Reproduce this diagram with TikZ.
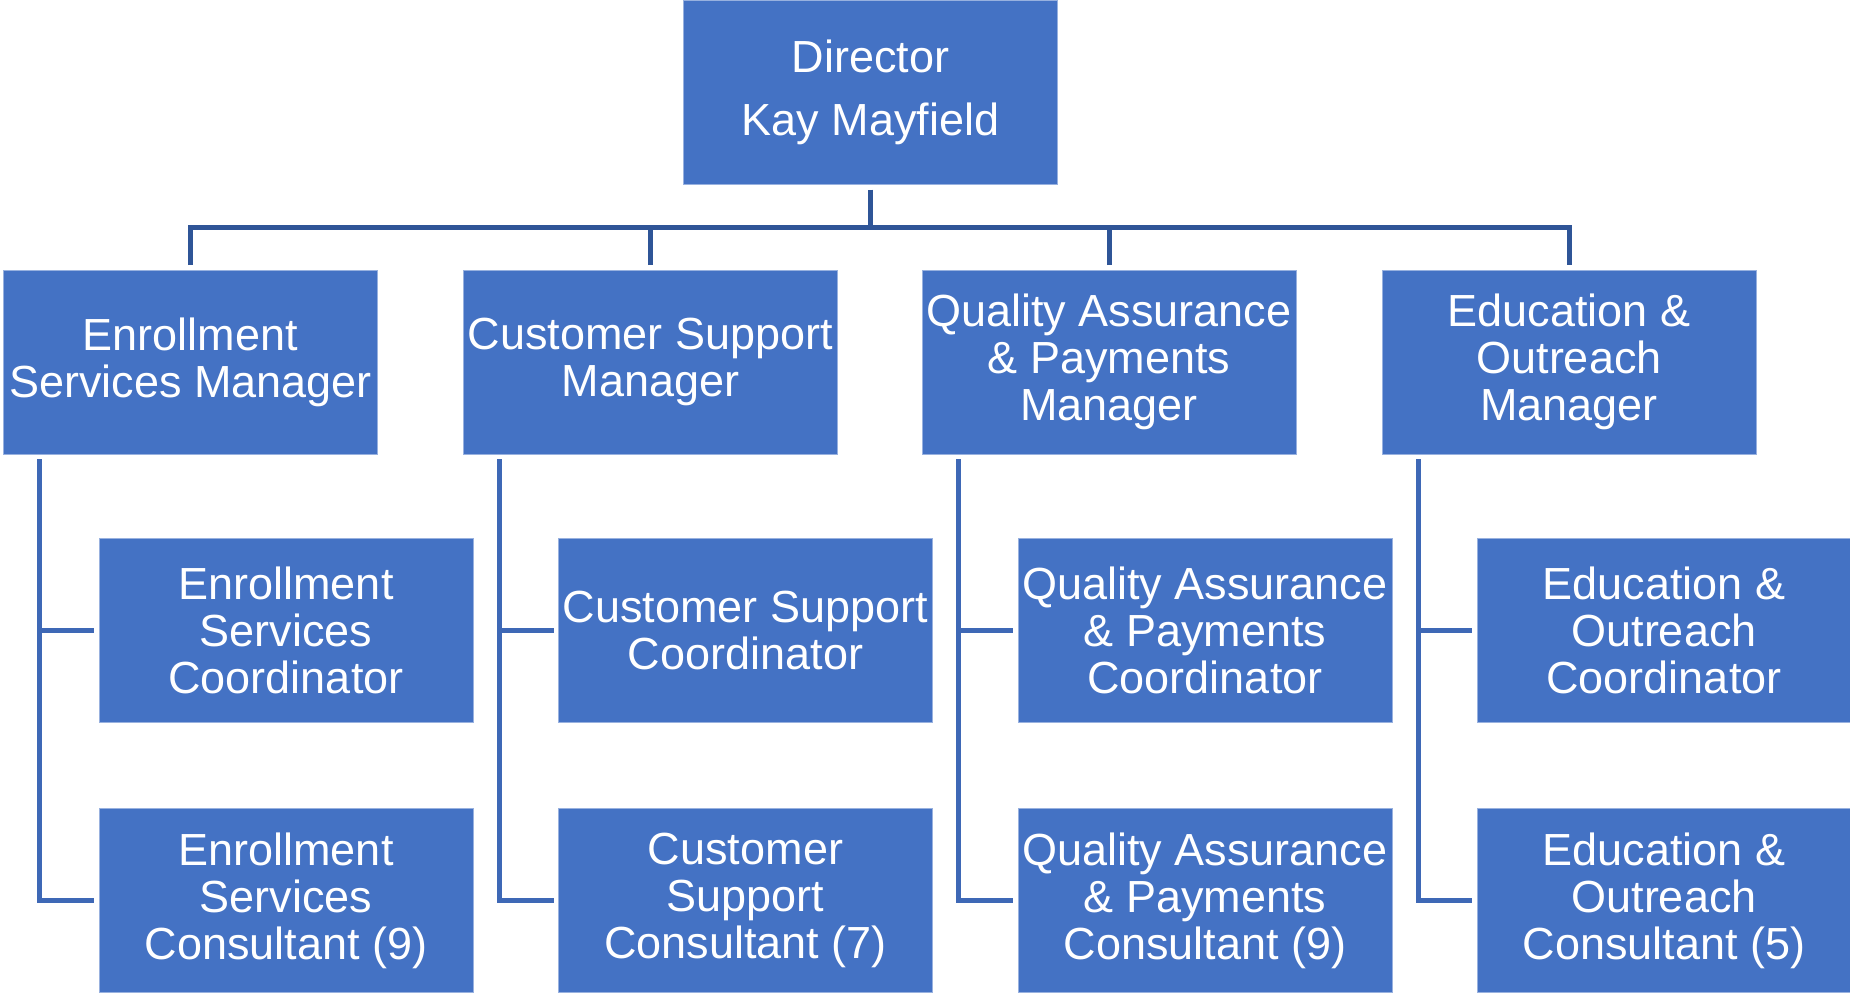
\documentclass[tikz,border=0pt]{standalone}
\usepackage{fontspec}
\setmainfont{Liberation Sans}
\usepackage{tikz}
\usetikzlibrary{positioning}
\definecolor{boxblue}{HTML}{4472C4}
\definecolor{topline}{HTML}{2F5597}
\definecolor{subline}{HTML}{3E68B6}
\tikzset{
  post/.style={rectangle, fill=boxblue, draw=boxblue!55!white, line width=1pt,
    minimum width=374pt, minimum height=184pt, inner sep=0pt, outer sep=5pt,
    text=white, align=center, font=\fontsize{45}{47}\selectfont},
}

\begin{document}
\begin{tikzpicture}[x=1pt, y=-1pt]
    \useasboundingbox (0,0) rectangle (1850,996);
    % director and managers
    \node[post, font=\fontsize{45}{63}\selectfont] (dir) at (870.5,92.5) {Director\\Kay Mayfield};
    \node[post] (m1) at (190.5,362) {Enrollment\\Services Manager};
    \node[post] (m2) at (650.5,362) {Customer Support\\Manager};
    \node[post] (m3) at (1109,362) {Quality Assurance\\\& Payments\\Manager};
    \node[post] (m4) at (1569,362) {Education \&\\Outreach\\Manager};
    % coordinators
    \node[post] (c1) at (286,630.5) {Enrollment\\Services\\Coordinator};
    \node[post] (c2) at (745.5,630.5) {Customer Support\\Coordinator};
    \node[post] (c3) at (1205,630.5) {Quality Assurance\\\& Payments\\Coordinator};
    \node[post] (c4) at (1664,630.5) {Education \&\\Outreach\\Coordinator};
    % consultants
    \node[post] (s1) at (286,900.5) {Enrollment\\Services\\Consultant (9)};
    \node[post] (s2) at (745.5,900.5) {Customer\\Support\\Consultant (7)};
    \node[post] (s3) at (1205,900.5) {Quality Assurance\\\& Payments\\Consultant (9)};
    \node[post] (s4) at (1664,900.5) {Education \&\\Outreach\\Consultant (5)};
    \coordinate (bus) at ([yshift=-38pt]dir.south);
    \coordinate (t1) at ([xshift=41pt]m1.south west);
    \coordinate (t2) at ([xshift=41pt]m2.south west);
    \coordinate (t3) at ([xshift=41pt]m3.south west);
    \coordinate (t4) at ([xshift=41pt]m4.south west);
    \begin{scope}[draw=topline, line width=5pt]
      \draw (dir.south) -- (bus) ;
      \draw (m1.north) |- (bus) -| (m4.north) ;
      \draw (m2.north) -- (m2.north |- bus) ;
      \draw (m3.north) -- (m3.north |- bus) ;
    \end{scope}
    \begin{scope}[draw=subline, line width=5pt]
      \draw (t1) |- (s1.west) ;
      \draw (t1 |- c1.west) -- (c1.west) ;
      \draw (t2) |- (s2.west) ;
      \draw (t2 |- c2.west) -- (c2.west) ;
      \draw (t3) |- (s3.west) ;
      \draw (t3 |- c3.west) -- (c3.west) ;
      \draw (t4) |- (s4.west) ;
      \draw (t4 |- c4.west) -- (c4.west) ;
    \end{scope}
  \end{tikzpicture}
\end{document}
